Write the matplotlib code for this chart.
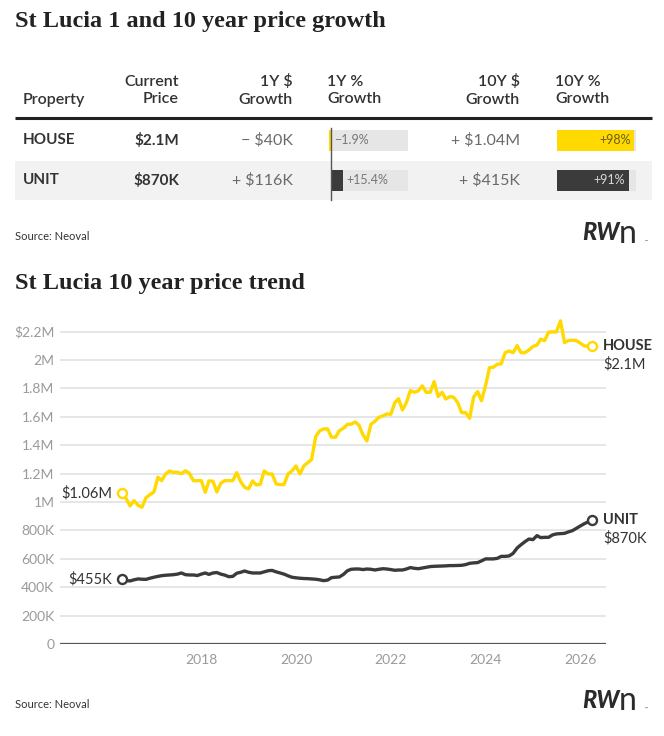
import numpy as np
import pandas as pd
import matplotlib
matplotlib.use("Agg")
import matplotlib.pyplot as plt
from matplotlib.patches import Rectangle

# ---- table data ----
props = ["HOUSE", "UNIT"]
current_price = ["$2.1M", "$870K"]
growth_1y_dollar = ["\u2212 $40K", "+ $116K"]
growth_1y_pct = [-1.9, 15.4]
growth_1y_lbl = ["\u22121.9%", "+15.4%"]
growth_10y_dollar = ["+ $1.04M", "+ $415K"]
growth_10y_pct = [98, 91]
growth_10y_lbl = ["+98%", "+91%"]

# ---- trend data (monthly, from May 2016), values in $M / $K ----
house = [1.060, 1.023, 0.972, 1.009, 0.977, 0.963, 1.030, 1.051, 1.070, 1.174,
         1.150, 1.197, 1.218, 1.209, 1.209, 1.199, 1.220, 1.202, 1.150, 1.150,
         1.150, 1.068, 1.148, 1.146, 1.070, 1.132, 1.150, 1.150, 1.150, 1.206,
         1.143, 1.103, 1.092, 1.148, 1.120, 1.125, 1.218, 1.197, 1.197, 1.127,
         1.122, 1.122,
         1.197, 1.218, 1.253, 1.197, 1.253, 1.277, 1.300, 1.460, 1.500, 1.514,
         1.514, 1.456, 1.456, 1.502, 1.519, 1.547, 1.547, 1.563, 1.540, 1.472,
         1.430, 1.547, 1.568, 1.596, 1.606, 1.620, 1.617, 1.699, 1.727, 1.648,
         1.699, 1.784, 1.772, 1.782, 1.817, 1.772, 1.772, 1.847, 1.742, 1.772,
         1.725,
         1.742, 1.737, 1.699, 1.629, 1.629, 1.589, 1.737, 1.777, 1.713, 1.817,
         1.946, 1.948, 1.970, 1.972, 2.051, 2.063, 2.051, 2.101, 2.051, 2.051,
         2.070, 2.094, 2.105, 2.146, 2.136, 2.195, 2.197, 2.197, 2.275, 2.122,
         2.136, 2.139, 2.136, 2.118, 2.098, 2.098, 2.100]
unit = [455, 446, 444, 452, 458, 456, 455, 463, 470, 476,
        481, 484, 486, 488, 492, 500, 488, 486, 486, 482,
        492, 500, 490, 500, 503, 492, 485, 474, 476, 498,
        505, 514, 505, 500, 500, 500, 508, 516, 518, 508,
        500, 492, 480, 470, 466, 463, 461, 460, 458, 456,
        452, 446, 450, 467, 470, 472, 490, 516, 526, 528,
        528,
        524, 528, 526, 521, 526, 530, 528, 524, 519, 521,
        521, 528, 538, 533, 530, 535, 540, 545, 547, 548,
        549, 550, 552, 552, 553, 554, 559, 568, 571, 573,
        585, 599, 599, 599, 603, 617, 617, 620, 638, 676,
        699, 721, 739, 735, 763, 749, 751, 751, 768, 775,
        777, 779, 789, 798, 814, 831, 847, 859, 870]
y_ticks = [0, 200e3, 400e3, 600e3, 800e3, 1e6, 1.2e6, 1.4e6, 1.6e6, 1.8e6, 2e6, 2.2e6]
y_tick_labels = ["0", "200K", "400K", "600K", "800K", "1M", "1.2M", "1.4M",
                 "1.6M", "1.8M", "2M", "$2.2M"]
x_tick_years = [2018, 2020, 2022, 2024, 2026]

W, H = 664, 736
YELLOW = "#FFD900"
DARK = "#3b3b3b"
TXT = "#333333"
SANS = ["Lato", "DejaVu Sans"]
SERIF = ["Liberation Serif", "DejaVu Serif"]
plt.rcParams["font.family"] = SANS

fig = plt.figure(figsize=(W / 100, H / 100), dpi=100)
bg = fig.add_axes([0, 0, 1, 1])
bg.set_xlim(0, W)
bg.set_ylim(H, 0)
bg.axis("off")


def px_axes(x0, y0, x1, y1):
    return fig.add_axes([x0 / W, 1 - y1 / H, (x1 - x0) / W, (y1 - y0) / H])


# titles
bg.text(15, 22, "St Lucia 1 and 10 year price growth", family=SERIF, weight="bold",
        fontsize=17.5, color="#222222", va="center")
bg.text(15, 284, "St Lucia 10 year price trend", family=SERIF, weight="bold",
        fontsize=17.5, color="#222222", va="center")

# table header
hdr = dict(fontsize=11.5, color=TXT, weight="semibold", va="center", linespacing=1.32)
bg.text(23, 100, "Property", ha="left", **hdr)
bg.text(179, 90.5, "Current\nPrice", ha="right", **hdr)
bg.text(293, 90.5, "1Y $\nGrowth", ha="right", **hdr)
bg.text(327, 90.5, "1Y %\nGrowth", ha="left", **hdr)
bg.text(520, 90.5, "10Y $\nGrowth", ha="right", **hdr)
bg.text(555, 90.5, "10Y %\nGrowth", ha="left", **hdr)
bg.plot([15, 652], [118, 118], color="#222222", lw=2.2, solid_capstyle="butt")

row_y = [140.5, 180.5]
bg.add_patch(Rectangle((15, 160.5), 637, 39, color="#f2f2f2", lw=0))
for i, p in enumerate(props):
    y = row_y[i]
    bg.text(23, y, p, ha="left", va="center", fontsize=11, weight="bold", color=TXT)
    bg.text(179, y, current_price[i], ha="right", va="center", fontsize=11,
            weight="bold", color=TXT)
    bg.text(293, y, growth_1y_dollar[i], ha="right", va="center", fontsize=11.5,
            color="#6a6a6a")
    bg.text(520, y, growth_10y_dollar[i], ha="right", va="center", fontsize=11.5,
            color="#6a6a6a")

bar_colors = [YELLOW, DARK]

# 1Y % bars
a1 = px_axes(330.6, 120, 408, 200)
a1.set_xlim(0, 100)
a1.set_ylim(200, 120)
a1.axis("off")
a1.barh(row_y, [100, 100], height=21, color="#e6e6e6")
a1.barh(row_y, growth_1y_pct, height=21, color=bar_colors, clip_on=False)
a1.plot([0, 0], [128, 200], color="#555555", lw=1, clip_on=False)
for i, v in enumerate(growth_1y_pct):
    a1.annotate(growth_1y_lbl[i], (max(v, 0), row_y[i]), xytext=(2.5, 0),
                textcoords="offset points", ha="left", va="center",
                fontsize=9, color="#777777")

# 10Y % bars
a2 = px_axes(556.6, 120, 636, 200)
a2.set_xlim(0, 100)
a2.set_ylim(200, 120)
a2.axis("off")
a2.barh(row_y, [100, 100], height=21, color="#e6e6e6")
a2.barh(row_y, growth_10y_pct, height=21, color=bar_colors)
txt_cols = ["#6b5e1a", "#d8d8d8"]
for i, v in enumerate(growth_10y_pct):
    a2.annotate(growth_10y_lbl[i], (v, row_y[i]), xytext=(-2.5, 0),
                textcoords="offset points", ha="right", va="center",
                fontsize=9, color=txt_cols[i])


def logo(x, y):
    bg.text(x, y, "RW", fontsize=17, weight="black", style="italic",
            color="#2b2b2b", va="center", ha="left")
    bg.text(x + 37, y + 1, "n", fontsize=23, weight="normal", color="#2b2b2b",
            va="center", ha="left")
    bg.text(x + 63, y + 9, "\u2122", fontsize=3, color="#2b2b2b", va="center")


bg.text(15, 237, "Source: Neoval", fontsize=8, color=TXT, va="center")
logo(582, 233)
bg.text(15, 704, "Source: Neoval", fontsize=8, color=TXT, va="center")
logo(582, 700)

# ---- trend chart ----
dates = pd.date_range("2016-05-01", periods=len(house), freq="MS")
house_v = np.array(house) * 1e6
unit_v = np.array(unit) * 1e3

y_top = 2.3e6
px_per = (644 - 331.5) / 2.2e6
ax = px_axes(60, 644 - y_top * px_per, 606, 644)
ax.set_facecolor("none")
ax.set_ylim(0, y_top)
ax.set_xlim(pd.Timestamp("2015-01-08"), pd.Timestamp("2026-07-18"))
for s in ax.spines.values():
    s.set_visible(False)
ax.set_yticks(y_ticks)
ax.set_yticklabels(y_tick_labels)
ax.set_xticks([pd.Timestamp(f"{yr}-01-01") for yr in x_tick_years])
ax.set_xticklabels([str(yr) for yr in x_tick_years])
ax.tick_params(axis="both", length=0, labelsize=10, labelcolor="#9a9a9a")
ax.tick_params(axis="y", pad=4)
ax.tick_params(axis="x", pad=7)
ax.yaxis.grid(True, color="#e2e2e2", lw=1.2)
ax.set_axisbelow(True)
ax.axhline(0, color="#555555", lw=1.6, zorder=2)

ax.plot(dates, house_v, color=YELLOW, lw=2.4, zorder=3)
ax.plot(dates, unit_v, color=DARK, lw=2.4, zorder=3)
for ser, col in [(house_v, YELLOW), (unit_v, DARK)]:
    ax.plot([dates[0], dates[-1]], [ser[0], ser[-1]], ls="none", marker="o",
            ms=6.5, mfc="white", mec=col, mew=1.7, zorder=4, clip_on=False)

ax.annotate("$1.06M", (dates[0], house_v[0]), xytext=(-7, 0), textcoords="offset points",
            ha="right", va="center", fontsize=10.5, color=TXT)
ax.annotate("$455K", (dates[0], unit_v[0]), xytext=(-7, 0), textcoords="offset points",
            ha="right", va="center", fontsize=10.5, color=TXT)
ax.annotate("HOUSE", (dates[-1], house_v[-1]), xytext=(8, 0), textcoords="offset points",
            ha="left", va="center", fontsize=10.5, weight="bold", color=TXT)
ax.annotate("$2.1M", (dates[-1], house_v[-1]), xytext=(8, -13), textcoords="offset points",
            ha="left", va="center", fontsize=10.5, color=TXT)
ax.annotate("UNIT", (dates[-1], unit_v[-1]), xytext=(8, 0), textcoords="offset points",
            ha="left", va="center", fontsize=10.5, weight="bold", color=TXT)
ax.annotate("$870K", (dates[-1], unit_v[-1]), xytext=(8, -13), textcoords="offset points",
            ha="left", va="center", fontsize=10.5, color=TXT)

fig.savefig("out.png", dpi=100, facecolor="white")
